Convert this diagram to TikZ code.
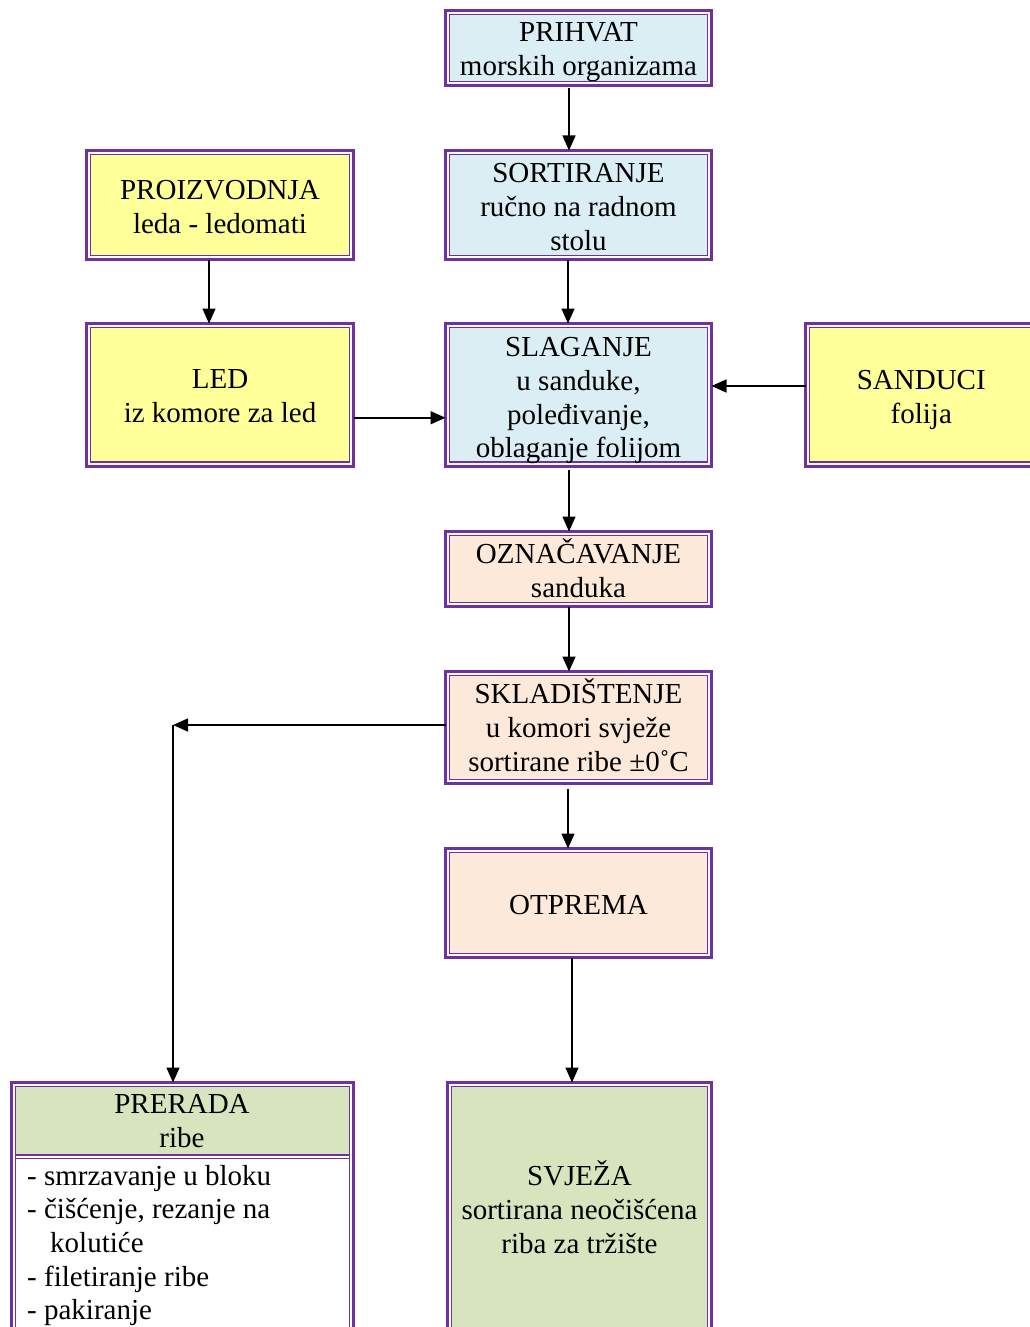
\documentclass[tikz,border=0pt]{standalone}
\usepackage{fontspec}
\setmainfont{Liberation Serif}
\usetikzlibrary{arrows.meta}
\definecolor{frame}{HTML}{7030A0}
\definecolor{paleblue}{HTML}{DAEEF3}
\definecolor{paleyellow}{HTML}{FFFF99}
\definecolor{palepeach}{HTML}{FDE9D9}
\definecolor{palegreen}{HTML}{D7E4BD}
\tikzset{
  bodyfont/.style={font=\fontsize{29}{33.8}\selectfont},
  % double frame: thick outer line, white gap, thin inner line around the coloured fill
  flowbox/.style={rectangle, draw=frame, fill=white, line width=3pt, outer sep=0pt, inner sep=0pt,
    path picture={\filldraw[draw=frame, fill=#1, line width=1.4pt]
      ([shift={(4pt,-4pt)}]path picture bounding box.north west) rectangle
      ([shift={(-4pt,4pt)}]path picture bounding box.south east);}},
  boxtext/.style={align=center, inner sep=0pt, bodyfont},
  arr/.style={line width=1.5pt, -{Triangle[length=15pt,width=13pt]}},
  listitem/.style={anchor=base west, inner sep=0pt, bodyfont},
  divider/.style={frame, line width=1.4pt}
}
% \flowstep{name}{fill}{x}{y}{width}{height}{text drop}{text}
\newcommand\flowstep[8]{%
  \node[flowbox=#2, minimum width=#5pt, minimum height=#6pt] (#1) at (#3,#4) {};
  \node[boxtext] (#1-text) at ([yshift=-#7pt]#1.center) {#8};
}
\begin{document}
\begin{tikzpicture}[x=1pt, y=-1pt]
\useasboundingbox (0,0) rectangle (1030,1327);
\clip (0,0) rectangle (1030,1327);

% main column
\flowstep{prihvat}{paleblue}{578.5}{48}{266}{75}{4}{PRIHVAT\\morskih organizama}
\flowstep{sortiranje}{paleblue}{578.5}{205}{266}{109}{2}{SORTIRANJE\\ručno na radnom\\stolu}
\flowstep{slaganje}{paleblue}{578.5}{394.75}{266}{142.5}{6}{SLAGANJE\\u sanduke,\\poleđivanje,\\oblaganje folijom}
\flowstep{oznacavanje}{palepeach}{578.5}{569}{266}{75}{-1}{OZNAČAVANJE\\sanduka}
\flowstep{skladistenje}{palepeach}{578.5}{727.5}{266}{112}{-2.5}{SKLADIŠTENJE\\u komori svježe\\sortirane ribe ±0˚C}
\flowstep{otprema}{palepeach}{578.5}{903}{266}{109}{2}{OTPREMA}
\flowstep{svjeza}{palegreen}{579.5}{1210}{264}{255}{-3}{SVJEŽA\\sortirana neočišćena\\riba za tržište}

% side supplies
\flowstep{proizvodnja}{paleyellow}{220}{205}{267}{109}{2}{PROIZVODNJA\\leda - ledomati}
\flowstep{led}{paleyellow}{220}{394.75}{267}{142.5}{1}{LED\\iz komore za led}
\flowstep{sanduci}{paleyellow}{921.25}{394.75}{231.5}{142.5}{5}{SANDUCI\\folija}

% processing box with header and list
\node[flowbox=white, minimum width=342pt, minimum height=257.5pt] (prerada) at (182.5,1211.25) {};
\fill[palegreen] (16.2,1087.2) rectangle (348.8,1154.4);
\draw[divider] (15.5,1155) -- (349.5,1155);
\draw[divider] (15.5,1158.3) -- (349.5,1158.3);
\node[boxtext] (preradahead) at (182,1120.75) {PRERADA\\ribe};
\node[listitem] (item1) at (27,1185) {- smrzavanje u bloku};
\node[listitem] (item2) at (27,1218.3) {- čišćenje, rezanje na};
\node[listitem] (item3) at (50,1252.3) {kolutiće};
\node[listitem] (item4) at (27,1286) {- filetiranje ribe};
\node[listitem] (item5) at (27,1319.3) {- pakiranje};

% connectors
\coordinate (corner) at (173,725);
\draw[arr, shorten <=3pt] ([xshift=-9.5pt]prihvat.south) -- ([xshift=-9.5pt]sortiranje.north);
\draw[arr] ([xshift=-10.5pt]sortiranje.south) -- ([xshift=-10.5pt]slaganje.north);
\draw[arr] ([xshift=-11pt]proizvodnja.south) -- ([xshift=-11pt]led.north);
\draw[arr] ([yshift=-23pt]led.east) -- ([yshift=-23pt]slaganje.west);
\draw[arr] ([yshift=8.75pt]sanduci.west) -- ([yshift=8.75pt]slaganje.east);
\draw[arr, shorten <=4pt] ([xshift=-9.5pt]slaganje.south) -- ([xshift=-9.5pt]oznacavanje.north);
\draw[arr] ([xshift=-9.5pt]oznacavanje.south) -- ([xshift=-9.5pt]skladistenje.north);
\draw[arr, shorten <=5pt] ([xshift=-10.5pt]skladistenje.south) -- ([xshift=-10.5pt]otprema.north);
\draw[arr] ([xshift=-6.5pt]otprema.south) -- ([xshift=-6.5pt]otprema.south |- svjeza.north);
\draw[arr] (skladistenje.west |- corner) -- (corner);
\draw[arr] (corner) -- (corner |- prerada.north);
\end{tikzpicture}
\end{document}
